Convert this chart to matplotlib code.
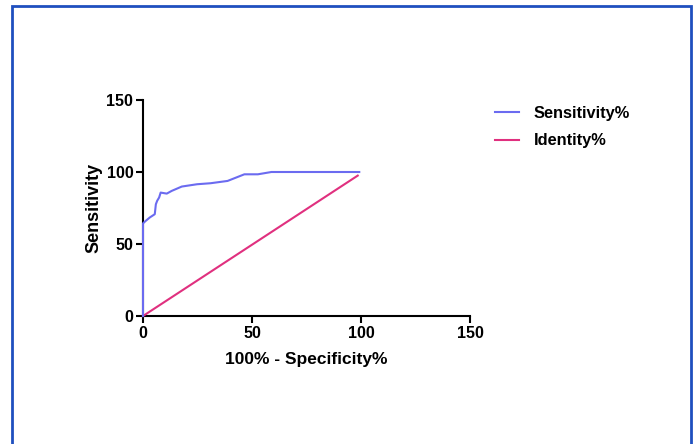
import matplotlib
matplotlib.use("Agg")
import matplotlib.pyplot as plt
from matplotlib.patches import Rectangle

plt.rcParams['font.family'] = ['Liberation Sans', 'DejaVu Sans']

# Data
sens_x = [0, 0, 1.2, 3.1, 5.4, 5.9, 6.5, 7.4, 8.1, 10.9, 13.2, 17.8, 24.8, 31.0, 38.8, 46.5, 52.7, 58.9, 99.2]
sens_y = [0, 64.3, 66.0, 68.4, 70.7, 77.6, 80.0, 82.3, 85.7, 85.0, 86.9, 89.9, 91.5, 92.2, 93.8, 98.4, 98.4, 100, 100]
ident_x = [0, 98.5]
ident_y = [0, 97.5]
ticks = [0, 50, 100, 150]

fig = plt.figure(figsize=(6.99, 4.44), dpi=100)
fig.patch.set_facecolor('white')

# outer blue frame
fig.add_artist(Rectangle((12/699, -0.05), (691-12)/699, (444-6)/444 + 0.05,
                         transform=fig.transFigure, fill=False,
                         edgecolor='#1f4fbf', linewidth=2))

ax = fig.add_axes([143/699, 1-316/444, (470-143)/699, (316-100)/444])
ax.plot(sens_x, sens_y, color='#6b6bf0', linewidth=1.5, label='Sensitivity%',
        clip_on=False, zorder=5)
ax.plot(ident_x, ident_y, color='#e0307f', linewidth=1.5, label='Identity%',
        clip_on=False, zorder=4)

ax.set_xlim(0, 150)
ax.set_ylim(0, 150)
ax.set_xticks(ticks)
ax.set_yticks(ticks)
for s in ['top', 'right']:
    ax.spines[s].set_visible(False)
for s in ['left', 'bottom']:
    ax.spines[s].set_linewidth(1.5)
ax.tick_params(direction='out', width=1.5, length=5, labelsize=11.5, pad=2)
for lbl in ax.get_xticklabels() + ax.get_yticklabels():
    lbl.set_fontweight('bold')
ax.set_xlabel('100% - Specificity%', fontsize=12.5, fontweight='bold', labelpad=8)
ax.set_ylabel('Sensitivity', fontsize=13, fontweight='bold', labelpad=3)

leg = ax.legend(loc='upper left', bbox_to_anchor=(1.03, 1.04), frameon=False,
                prop={'weight': 'bold', 'size': 11.8}, handlelength=1.5,
                handletextpad=0.9, labelspacing=0.75)

fig.savefig('out.png', dpi=100)
